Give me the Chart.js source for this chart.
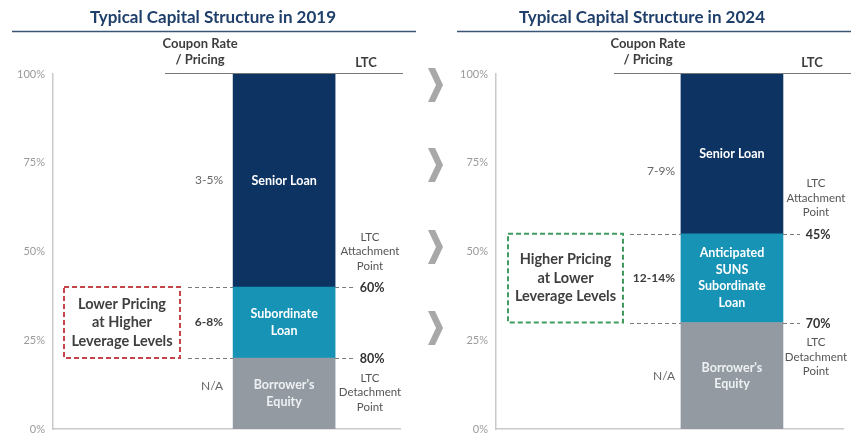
<!DOCTYPE html>
<html>
<head>
<meta charset="utf-8">
<script src="https://cdn.jsdelivr.net/npm/chart.js@4.4.1/dist/chart.umd.min.js"></script>
<style>
  body { margin: 0; background: #fff; }
  #wrap { position: relative; width: 851px; height: 435px; }
  .panel { position: absolute; top: 0; height: 435px; }
</style>
</head>
<body>
<div id="wrap">
  <div class="panel" style="left:0;width:425px"><canvas id="c2019" width="425" height="435"></canvas></div>
  <div class="panel" style="left:425px;width:426px"><canvas id="c2024" width="426" height="435"></canvas></div>
</div>
<script>
// Data (bottom to top of the stack)
const segments = ["Borrower's Equity", "Subordinate Loan", "Senior Loan"];
const labels2019 = [["Borrower's", "Equity"], ["Subordinate", "Loan"], ["Senior Loan"]];
const labels2024 = [["Borrower's", "Equity"], ["Anticipated", "SUNS", "Subordinate", "Loan"], ["Senior Loan"]];
const share2019 = [20, 20, 60];
const share2024 = [30, 25, 45];
const pricing2019 = ["N/A", "6-8%", "3-5%"];
const pricing2024 = ["N/A", "12-14%", "7-9%"];
const boxText2019 = ["Lower Pricing", "at Higher", "Leverage Levels"];
const boxText2024 = ["Higher Pricing", "at Lower", "Leverage Levels"];
const yTicks = [0, 25, 50, 75, 100];

const colors = ["#939aa2", "#1793b6", "#0c3362"];
const textColors = ["#eef1f3", "#ffffff", "#ffffff"];
const FONT = "Lato, 'Noto Sans', sans-serif";

function annotPlugin(cfg) {
  return {
    id: "annot",
    afterDraw(chart) {
      const ctx = chart.ctx;
      const y = chart.scales.y;
      const py = v => y.getPixelForValue(v);
      const bar = chart.getDatasetMeta(0).data[0];
      const bx = bar.x, bw = bar.width;
      const barL = bx - bw / 2, barR = bx + bw / 2;
      ctx.save();
      ctx.textBaseline = "middle";

      // title + underline
      ctx.fillStyle = "#1f3f6b";
      ctx.font = "bold 17px " + FONT;
      ctx.textAlign = "center";
      ctx.fillText(cfg.title, cfg.titleX, 18);
      ctx.strokeStyle = "#3a5573";
      ctx.lineWidth = 1.3;
      ctx.beginPath();
      ctx.moveTo(cfg.rule[0], 31.5);
      ctx.lineTo(cfg.rule[1], 31.5);
      ctx.stroke();

      // column headers
      ctx.fillStyle = "#3d3d3d";
      ctx.font = "bold 13px " + FONT;
      ctx.fillText("Coupon Rate", bx - 84, 44);
      ctx.fillText("/ Pricing", bx - 84, 60);
      ctx.fillText("LTC", cfg.ltcX - 4, 63);
      ctx.strokeStyle = "#777";
      ctx.lineWidth = 1;
      ctx.beginPath();
      ctx.moveTo(cfg.headLine[0], 73.5);
      ctx.lineTo(cfg.headLine[1], 73.5);
      ctx.stroke();

      // segment labels and pricing
      let cum = 0;
      const bounds = [];
      cfg.shares.forEach((v, i) => {
        const top = py(cum + v), bot = py(cum);
        const mid = (top + bot) / 2;
        const lines = cfg.labels[i];
        ctx.fillStyle = textColors[i];
        ctx.font = "bold 12.5px " + FONT;
        ctx.textAlign = "center";
        lines.forEach((t, k) => ctx.fillText(t, bx, mid + (k - (lines.length - 1) / 2) * 16.5));
        ctx.fillStyle = i === 1 ? "#3d3d3d" : "#666";
        ctx.font = (i === 1 ? "bold " : "") + "12px " + FONT;
        ctx.textAlign = "right";
        ctx.fillText(cfg.pricing[i], cfg.priceRight, mid + cfg.priceDy[i]);
        cum += v;
        if (i < cfg.shares.length - 1) bounds.push(cum);
      });

      // dashed attachment / detachment lines and LTC labels
      ctx.setLineDash([4, 3]);
      ctx.strokeStyle = "#7a7a7a";
      ctx.lineWidth = 1;
      bounds.forEach(b => {
        const yy = Math.round(py(b)) + 0.5;
        ctx.beginPath();
        ctx.moveTo(cfg.dash[0], yy); ctx.lineTo(barL, yy);
        ctx.moveTo(barR, yy); ctx.lineTo(cfg.dash[1], yy);
        ctx.stroke();
      });
      ctx.setLineDash([]);
      ctx.textAlign = "center";
      bounds.forEach(b => {
        ctx.fillStyle = "#333";
        ctx.font = "bold 12.5px " + FONT;
        ctx.fillText((100 - b) + "%", cfg.ltcX + 2, py(b) + 1);
      });
      const attachY = py(bounds[1]);
      const detachY = py(bounds[0]);
      ctx.fillStyle = "#555";
      ctx.font = "11.5px " + FONT;
      ["LTC", "Attachment", "Point"].forEach((t, k) => ctx.fillText(t, cfg.ltcX, attachY - 50 + k * 14.5));
      ["LTC", "Detachment", "Point"].forEach((t, k) => ctx.fillText(t, cfg.ltcX, detachY + 20 + k * 14.5));

      // pricing box
      ctx.setLineDash([5, 3]);
      ctx.strokeStyle = cfg.boxColor;
      ctx.lineWidth = 2;
      ctx.strokeRect(cfg.box[0], attachY, cfg.box[1] - cfg.box[0], detachY - attachY);
      ctx.setLineDash([]);
      ctx.fillStyle = "#3f3f3f";
      ctx.font = "bold 14.5px " + FONT;
      const bmid = (attachY + detachY) / 2, bcx = (cfg.box[0] + cfg.box[1]) / 2;
      cfg.boxText.forEach((t, k) => ctx.fillText(t, bcx, bmid + (k - 1) * 18.5));

      // chevrons between the panels
      if (cfg.chevrons) {
        ctx.fillStyle = "#a8a8a8";
        cfg.chevrons.forEach(cy => {
          const x0 = 3, w = 15, h = 34, t = 7;
          ctx.beginPath();
          ctx.moveTo(x0, cy - h / 2);
          ctx.lineTo(x0 + t, cy - h / 2);
          ctx.lineTo(x0 + w, cy);
          ctx.lineTo(x0 + t, cy + h / 2);
          ctx.lineTo(x0, cy + h / 2);
          ctx.lineTo(x0 + w - t, cy);
          ctx.closePath();
          ctx.fill();
        });
      }
      ctx.restore();
    }
  };
}

function makeChart(id, cfg) {
  return new Chart(document.getElementById(id), {
    type: "bar",
    data: {
      datasets: cfg.shares.map((v, i) => ({
        label: segments[i],
        data: [{ x: cfg.barX, y: v }],
        backgroundColor: colors[i],
        borderWidth: 0,
        barThickness: 102
      }))
    },
    options: {
      responsive: false,
      animation: false,
      layout: { padding: { top: 74, bottom: 6, left: 0, right: cfg.padRight } },
      plugins: { legend: { display: false }, tooltip: { enabled: false } },
      scales: {
        x: {
          type: "linear", min: 0, max: 100, stacked: true, offset: false,
          grid: { display: false, drawTicks: false },
          ticks: { display: false },
          border: { color: "#c9c9c9", width: 1.5 },
          afterFit: s => { s.height = 0; }
        },
        y: {
          min: 0, max: 100, stacked: true,
          grid: { display: false, drawTicks: false },
          border: { color: "#c9c9c9", width: 1.5 },
          afterBuildTicks: s => { s.ticks = yTicks.map(v => ({ value: v })); },
          ticks: {
            callback: v => v + "%",
            color: "#9a9a9a",
            font: { size: 11, family: FONT },
            padding: 8
          },
          afterFit: s => { s.width = cfg.axisX; s.paddingTop = 0; s.paddingBottom = 0; }
        }
      }
    },
    plugins: [annotPlugin(cfg)]
  });
}

makeChart("c2019", {
  title: "Typical Capital Structure in 2019", titleX: 213, rule: [12, 416],
  shares: share2019, labels: labels2019, pricing: pricing2019, boxText: boxText2019,
  barX: 66.6, axisX: 53, padRight: 25,
  ltcX: 370, headLine: [165, 403], priceRight: 223, priceDy: [-7, 0, 0],
  dash: [188, 356], box: [64, 180], boxColor: "#c8424c"
});

makeChart("c2024", {
  title: "Typical Capital Structure in 2024", titleX: 217, rule: [32, 426],
  shares: share2024, labels: labels2024, pricing: pricing2024, boxText: boxText2024,
  barX: 68.0, axisX: 71, padRight: 8,
  ltcX: 391, headLine: [189, 426], priceRight: 250, priceDy: [0, 0, 17],
  dash: [205, 375], box: [83, 198], boxColor: "#3f9c5e",
  chevrons: [85, 165, 247, 328]
});
</script>
</body>
</html>
